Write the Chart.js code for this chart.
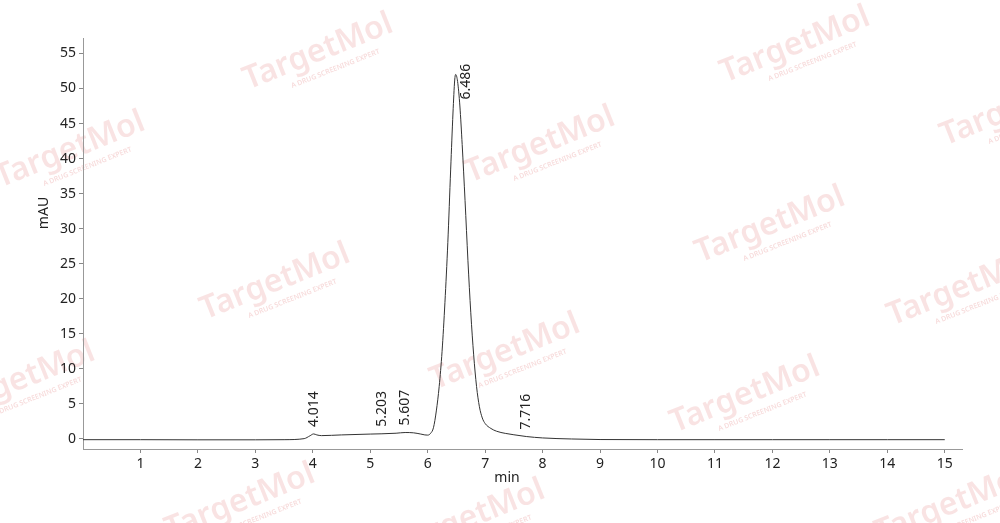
<!DOCTYPE html>
<html>
<head>
<meta charset="utf-8">
<script src="https://cdn.jsdelivr.net/npm/chart.js@4.4.1/dist/chart.umd.min.js"></script>
<style>
  html, body { margin: 0; padding: 0; background: #fff; }
  #wrap { width: 1000px; height: 523px; }
</style>
</head>
<body>
<div id="wrap"><canvas id="c" width="1000" height="523"></canvas></div>
<script>
// ---- data ----
const timeMin = [0, 1, 2, 3, 3.5, 3.85, 3.95, 4.014, 4.07, 4.15, 4.5, 5.0, 5.203, 5.45, 5.607, 5.75, 5.88, 5.95,
  6.0, 6.05, 6.10, 6.15, 6.20, 6.25, 6.30, 6.35, 6.40, 6.44, 6.47, 6.486, 6.52, 6.56, 6.60, 6.65, 6.70, 6.75,
  6.80, 6.85, 6.90, 6.95, 7.00, 7.10, 7.20, 7.35, 7.50, 7.716, 8.0, 8.5, 9.0, 10, 11, 12, 13, 14, 15];
const absorbance = [-0.1, -0.1, -0.12, -0.12, -0.1, 0.05, 0.45, 0.72, 0.58, 0.48, 0.58, 0.7, 0.74, 0.82, 0.92, 0.88, 0.7, 0.58,
  0.55, 0.8, 1.6, 4, 7.5, 12.5, 19.5, 28, 38.5, 46.5, 51.2, 52, 51, 47.5, 42, 34, 25.5, 18,
  12, 7.5, 4.6, 3.0, 2.2, 1.5, 1.1, 0.8, 0.6, 0.35, 0.15, 0.0, -0.08, -0.1, -0.1, -0.1, -0.1, -0.1, -0.1];
const peakTimes = [4.014, 5.203, 5.607, 6.486, 7.716];
const peakLabels = ["4.014", "5.203", "5.607", "6.486", "7.716"];
const xTicks = [1, 2, 3, 4, 5, 6, 7, 8, 9, 10, 11, 12, 13, 14, 15];
const yTicks = [0, 5, 10, 15, 20, 25, 30, 35, 40, 45, 50, 55];
const xTitle = "min";
const yTitle = "mAU";
const watermarkText = "TargetMol";
const watermarkSub = "A DRUG SCREENING EXPERT";

const FONT = "'Noto Sans', 'Liberation Sans', sans-serif";

const points = timeMin.map((t, i) => ({ x: t, y: absorbance[i] }));

function valueAt(t) {
  let best = 0, bd = Infinity;
  timeMin.forEach((v, i) => { const d = Math.abs(v - t); if (d < bd) { bd = d; best = i; } });
  return absorbance[best];
}

const watermarkPlugin = {
  id: 'watermark',
  beforeDraw(chart) {
    const ctx = chart.ctx;
    ctx.save();
    ctx.fillStyle = '#fff';
    ctx.fillRect(0, 0, chart.width, chart.height);
    const spots = [[318, 52], [795, 45], [70, 150], [540, 145], [1015, 108], [275, 282], [770, 225], [962, 288],
      [20, 380], [505, 352], [745, 395], [240, 502], [470, 518], [950, 505]];
    spots.forEach(([x, y]) => {
      ctx.save();
      ctx.translate(x, y);
      ctx.rotate(-0.38);
      ctx.fillStyle = 'rgba(220, 90, 90, 0.17)';
      ctx.font = "600 32px " + FONT;
      ctx.textAlign = 'center';
      ctx.textBaseline = 'middle';
      ctx.fillText(watermarkText, 0, 0);
      ctx.font = "600 7px " + FONT;
      ctx.fillStyle = 'rgba(220, 90, 90, 0.22)';
      ctx.fillText(watermarkSub, 10, 22);
      ctx.restore();
    });
    ctx.restore();
  }
};

const labelPlugin = {
  id: 'labels',
  afterDatasetsDraw(chart) {
    const ctx = chart.ctx;
    const xs = chart.scales.x, ys = chart.scales.y;
    ctx.save();
    ctx.font = "14px " + FONT;
    ctx.fillStyle = '#222';
    ctx.textAlign = 'left';
    ctx.textBaseline = 'middle';
    peakTimes.forEach((t, i) => {
      const txt = peakLabels[i];
      const w = ctx.measureText(txt).width;
      let x = xs.getPixelForValue(t);
      let yb = ys.getPixelForValue(valueAt(t)) - 7;
      if (yb - w < chart.chartArea.top + 20) {
        yb = ys.getPixelForValue(valueAt(t)) + 25;
        x += 10;
      }
      ctx.save();
      ctx.translate(x, yb);
      ctx.rotate(-Math.PI / 2);
      ctx.fillText(txt, 0, 0);
      ctx.restore();
    });
    // axis titles
    ctx.textAlign = 'center';
    ctx.fillText(xTitle, 507, 478);
    ctx.save();
    ctx.translate(44, 213);
    ctx.rotate(-Math.PI / 2);
    ctx.fillText(yTitle, 0, 0);
    ctx.restore();
    ctx.restore();
  }
};

new Chart(document.getElementById('c'), {
  type: 'line',
  data: {
    datasets: [{
      data: points,
      borderColor: '#333',
      borderWidth: 1,
      pointRadius: 0,
      fill: false,
      cubicInterpolationMode: 'monotone',
      tension: 0.4
    }]
  },
  options: {
    responsive: false,
    animation: false,
    devicePixelRatio: 1,
    layout: { padding: { top: 38, right: 38, left: 0, bottom: 0 } },
    plugins: { legend: { display: false }, tooltip: { enabled: false } },
    scales: {
      x: {
        type: 'linear',
        min: 0,
        max: 15.3,
        afterBuildTicks: s => { s.ticks = xTicks.map(v => ({ value: v })); },
        afterFit: s => { s.height = 74; },
        ticks: { color: '#222', font: { family: FONT, size: 14 }, padding: 3, maxRotation: 0, autoSkip: false },
        grid: { drawOnChartArea: false, drawTicks: true, tickLength: 4, color: '#888' },
        border: { color: '#999', width: 1 }
      },
      y: {
        type: 'linear',
        min: -1.43,
        max: 57.2,
        afterBuildTicks: s => { s.ticks = yTicks.map(v => ({ value: v })); },
        afterFit: s => { s.width = 83; },
        ticks: { color: '#222', font: { family: FONT, size: 14 }, padding: 3, autoSkip: false },
        grid: { drawOnChartArea: false, drawTicks: true, tickLength: 4, color: '#888' },
        border: { color: '#999', width: 1 }
      }
    }
  },
  plugins: [watermarkPlugin, labelPlugin]
});
</script>
</body>
</html>
